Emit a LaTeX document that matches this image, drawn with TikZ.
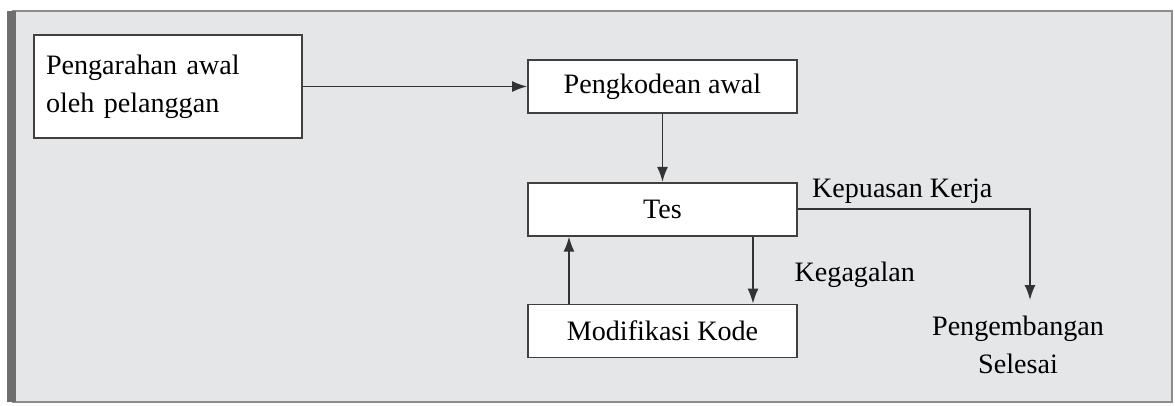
\documentclass[tikz,border=0pt]{standalone}
\usepackage{fontspec}
\setmainfont{Liberation Serif}
\usetikzlibrary{positioning, arrows.meta}
\definecolor{panelgray}{HTML}{E5E6E8}
\definecolor{framegray}{HTML}{6E6E6E}

\begin{document}
\begin{tikzpicture}[font=\fontsize{16}{21.5}\selectfont,
    box/.style={rectangle, draw=black!75, line width=1pt, fill=white, minimum width=5.38cm, minimum height=1.06cm},
    flow/.style={->, draw=black!80, line width=0.9pt},
    >={Latex[length=0.3cm,width=0.22cm]}]
  \useasboundingbox (0,0) rectangle (23.5,8.1);
  % panel
  \fill[panelgray] (0.26,0.06) rectangle (23.44,7.88);
  \draw[black!45, line width=1pt] (0.26,0.06) rectangle (23.44,7.88);
  \draw[framegray, line width=0.18cm] (0.23,0.06) -- (0.23,7.88);

  \node[box, minimum width=5.36cm, minimum height=2.06cm, text width=4.88cm, inner xsep=0.24cm, align=left] (brief) at (3.36,6.37) {Pengarahan awal\\oleh pelanggan};
  \node[box] (code) at (13.25,6.37) {Pengkodean awal};
  \node[box, below=1.36cm of code] (tes) {Tes};
  \node[box, below=1.34cm of tes] (mod) {Modifikasi Kode};
  \node[anchor=north, align=center] (done) at (20.36,1.9) {Pengembangan\\Selesai};
  \node[above right=0cm and 0.16cm of tes.east] (ok) {Kepuasan Kerja};

  \draw[flow] (brief) -- (code);
  \draw[flow] (code) -- (tes);
  \draw[flow] ([xshift=-1.87cm]mod.north) -- ([xshift=-1.87cm]tes.south);
  \draw[flow] ([xshift=1.81cm]tes.south) -- node[right=0.7cm, yshift=-0.1cm] (fail) {Kegagalan} ([xshift=1.81cm]mod.north);
  \draw[flow] (tes.east) -| ([xshift=0.24cm, yshift=0.2cm]done.north);
\end{tikzpicture}
\end{document}
